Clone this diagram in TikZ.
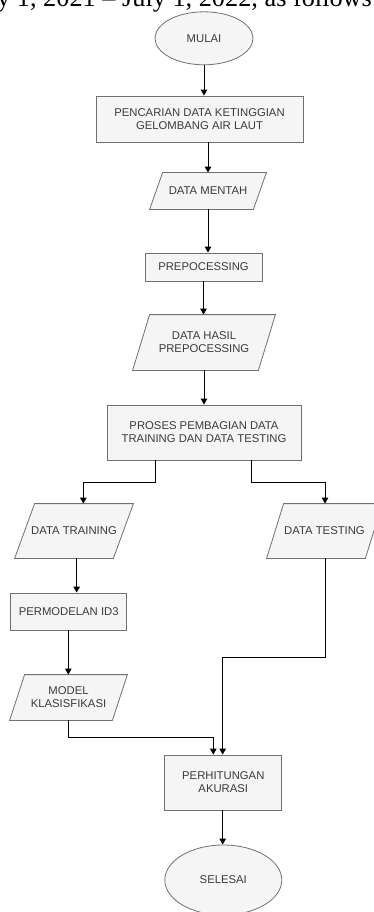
\documentclass[tikz,border=0pt]{standalone}
\usepackage{fontspec}
\setmainfont{Liberation Serif}
\newfontfamily\flowfont{Liberation Sans}
\usetikzlibrary{shapes.geometric,arrows.meta,backgrounds}
\definecolor{boxfill}{HTML}{F5F5F5}
\definecolor{boxline}{HTML}{707070}
\definecolor{txt}{HTML}{3A3A3A}
\tikzset{
  base/.style={draw=boxline, line width=0.8pt, fill=boxfill, text=txt,
    font=\flowfont\fontsize{11.3}{13.2}\selectfont, align=center, inner sep=0pt},
  procbox/.style={base, rectangle},
  iobox/.style={base, rectangle, draw=none, fill=none},
  iopath/.style={draw=boxline, line width=0.8pt, fill=boxfill},
  termbox/.style={base, ellipse},
  arr/.style={line width=1pt, black, -{Triangle[width=6.5pt,length=6pt]}},
}
\newcommand\iopoly[2]{%
  \draw[iopath] ([xshift=#2]#1.north west) -- ([xshift=#2]#1.north east)
    -- ([xshift=-#2]#1.south east) -- ([xshift=-#2]#1.south west) -- cycle;}
\begin{document}
\begin{tikzpicture}[x=1pt,y=-1pt]
\useasboundingbox (0,0) rectangle (374,912);
\clip (0,0) rectangle (374,912);
% heading (cut off document line)
\node[anchor=base west, inner sep=0pt] (head) at (-3,7)
  {\resizebox{382pt}{!}{y 1, 2021 -- July 1, 2022, as follows:}};
% nodes
\node[termbox, minimum width=98pt, minimum height=53pt] (mulai) at (204,38.3) {MULAI};
\node[procbox, minimum width=207pt, minimum height=46pt] (cari) at (199.5,119)
  {PENCARIAN DATA KETINGGIAN\\GELOMBANG AIR LAUT};
\node[iobox, minimum width=103pt, minimum height=36pt] (mentah) at (208,191) {DATA MENTAH};
\node[procbox, minimum width=117pt, minimum height=28pt] (prep) at (203.5,267) {PREPOCESSING};
\node[iobox, minimum width=125pt, minimum height=55pt] (hasil) at (204,342.5)
  {DATA HASIL\\PREPOCESSING};
\node[procbox, minimum width=194pt, minimum height=55pt] (bagi) at (204,432.5)
  {PROSES PEMBAGIAN DATA\\TRAINING DAN DATA TESTING};
\node[iobox, minimum width=98pt, minimum height=54pt] (train) at (74,531) {DATA TRAINING};
\node[iobox, minimum width=98pt, minimum height=54pt] (test) at (324.5,531) {DATA TESTING};
\node[procbox, minimum width=116pt, minimum height=37pt] (id3) at (68.7,611.5) {PERMODELAN ID3};
\node[iobox, minimum width=102pt, minimum height=45pt] (model) at (68.5,697.5)
  {MODEL\\KLASISFIKASI};
\node[procbox, minimum width=117pt, minimum height=55pt] (akurasi) at (223.3,782.5)
  {PERHITUNGAN\\AKURASI};
\node[termbox, minimum width=117pt, minimum height=70pt] (selesai) at (223.3,880) {SELESAI};
% parallelogram outlines
\begin{scope}[on background layer]
  \iopoly{mentah}{6.5pt}
  \iopoly{hasil}{8.5pt}
  \iopoly{train}{10pt}
  \iopoly{test}{8.5pt}
  \iopoly{model}{7.5pt}
\end{scope}
% bend points
\coordinate (b1) at (155,482);
\coordinate (b2) at (83.3,482);
\coordinate (b3) at (251.7,482);
\coordinate (b4) at (325,482);
\coordinate (b5) at (68.3,737.7);
\coordinate (b6) at (213.3,737.7);
\coordinate (b7) at (325,657.3);
\coordinate (b8) at (222.7,657.3);
\coordinate (x1) at (76.7,0);
\coordinate (x2) at (68.3,0);
% connectors
\draw[arr] (mulai.south) -- (mulai.south |- cari.north);
\draw[arr] (mentah.north |- cari.south) -- (mentah.north);
\draw[arr] (mentah.south) -- (mentah.south |- prep.north);
\draw[arr] (prep.south) -- (prep.south |- hasil.north);
\draw[arr] (hasil.south) -- (hasil.south |- bagi.north);
\draw[arr] (b1 |- bagi.south) -- (b1) -- (b2) -- (b2 |- train.north);
\draw[arr] (b3 |- bagi.south) -- (b3) -- (b4) -- (b4 |- test.north);
\draw[arr] (x1 |- train.south) -- (x1 |- id3.north);
\draw[arr] (x2 |- id3.south) -- (x2 |- model.north);
\draw[arr] (b5 |- model.south) -- (b5) -- (b6) -- (b6 |- akurasi.north);
\draw[arr] (b7 |- test.south) -- (b7) -- (b8) -- (b8 |- akurasi.north);
\draw[arr] (b8 |- akurasi.south) -- (b8 |- selesai.north);
\end{tikzpicture}
\end{document}
